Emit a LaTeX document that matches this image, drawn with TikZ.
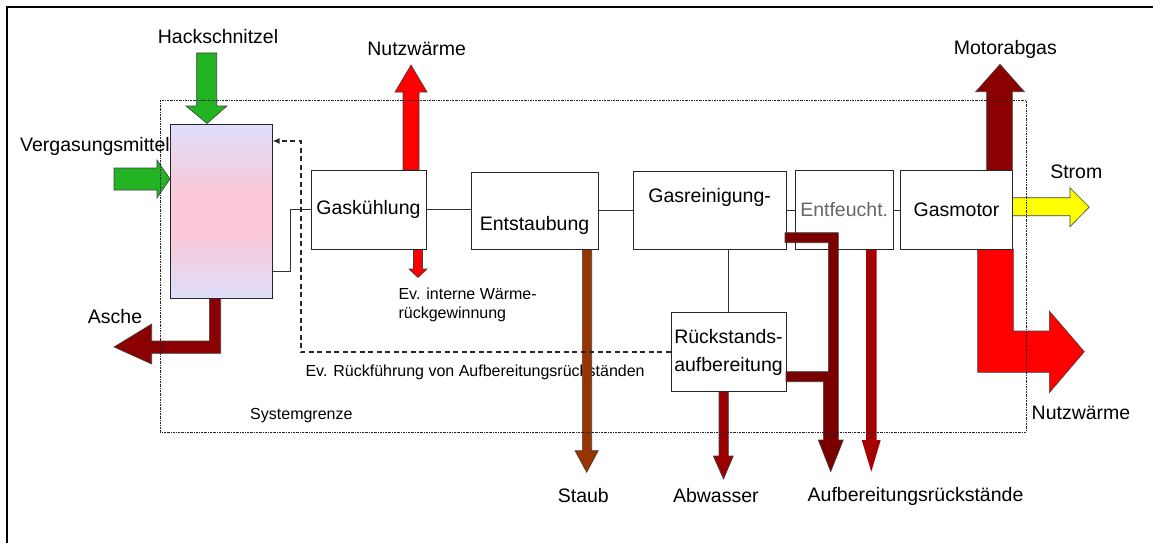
\documentclass[tikz,border=0pt]{standalone}
\usepackage{fontspec}
\setmainfont{Liberation Sans}
\definecolor{vgreen}{HTML}{22B422}
\definecolor{vred}{HTML}{FF0000}
\definecolor{vmaroon}{HTML}{8B0000}
\definecolor{vpipe}{HTML}{7A0000}
\definecolor{vdark}{HTML}{A60000}
\definecolor{vwater}{HTML}{990000}
\definecolor{vbrown}{HTML}{993300}
\definecolor{vyellow}{HTML}{FFFF00}
\definecolor{vlav}{HTML}{DEDEFA}
\definecolor{vpink}{HTML}{FAC8D8}
\usetikzlibrary{arrows.meta, positioning, calc}
\pgfdeclareverticalshading{reactorshade}{100bp}{color(0bp)=(vlav); color(25bp)=(vlav);
  color(43bp)=(vpink); color(55bp)=(vpink); color(75bp)=(vlav); color(100bp)=(vlav)}

\begin{document}
\begin{tikzpicture}[
    x=1pt, y=-1pt,
    every node/.style={font=\fontsize{19.5}{23}\selectfont, text=black},
    small/.style={font=\fontsize{16}{18.6}\selectfont, align=left},
    unit/.style={draw=black!85, fill=white, line width=1pt, inner sep=0pt},
    blk/.style={draw=black!75, line width=0.6pt},
    conn/.style={draw=black!80, line width=0.9pt},
    fback/.style={draw=black!85, line width=1.6pt, dash pattern=on 5pt off 3.5pt},
    sysline/.style={draw=black!85, line width=0.8pt, dash pattern=on 2pt off 1pt on 0.6pt off 1pt}
  ]
    \useasboundingbox (0,0) rectangle (1153,543);
    \draw[line width=2.2pt] (6.7,543) -- (6.7,6.7) -- (1153,6.7);

    \node (hack) at (218,37) {Hackschnitzel};
    \node (verg) at (95,146) {Vergasungsmittel};
    \node (asche) at (115,317) {Asche};
    \node (nwtop) at (416.7,49) {Nutzwärme};
    \node (abgas) at (1005.3,49) {Motorabgas};
    \node (strom) at (1076.3,171.7) {Strom};
    \node (nwright) at (1081,412.7) {Nutzwärme};
    \node (staub) at (583.3,496) {Staub};
    \node (abw) at (715.8,496) {Abwasser};
    \node (aufb) at (915.5,496) {Aufbereitungsrückstände};
    \node[small, anchor=west] (intern) at (395,305) {Ev. interne Wärme-\\rückgewinnung};
    \node[small, anchor=west] (rueckf) at (302,372.7) {Ev. Rückführung von Aufbereitungsrückständen};
    \node[small, anchor=west] (sysgr) at (246.7,415.7) {Systemgrenze};

    \fill[blk, fill=vgreen] (196.7,53) -- (216.7,53) -- (216.7,106) -- (227,106) -- (207,123.5)
      -- (186,106) -- (196.7,106) -- cycle;
    \fill[blk, fill=vgreen] (114,168) -- (157,168) -- (157,160) -- (170,179) -- (157,198)
      -- (157,190) -- (114,190) -- cycle;
    \fill[blk, fill=vmaroon] (209.3,298) -- (220.7,298) -- (220.7,353.3) -- (151.7,353.3)
      -- (151.7,364) -- (114,347) -- (151.7,324) -- (151.7,341) -- (209.3,341) -- cycle;
    \fill[blk, fill=vred] (403,170) -- (403,92) -- (395,92) -- (411,65) -- (427,92)
      -- (419,92) -- (419,170) -- cycle;
    \fill[blk, fill=vred] (413.5,249) -- (413.5,269) -- (409,269) -- (418,277.5) -- (427,269)
      -- (422.5,269) -- (422.5,249) -- cycle;
    \fill[blk, fill=vbrown] (582.3,249) -- (582.3,450.7) -- (575,450.7) -- (586.7,472.3)
      -- (598.3,450.7) -- (591.7,450.7) -- (591.7,249) -- cycle;
    \fill[blk, fill=vwater] (719,391.7) -- (719,456) -- (713.3,456) -- (723.5,479)
      -- (733.3,456) -- (728.3,456) -- (728.3,391.7) -- cycle;
    \fill[vdark] (866,249.3) -- (866,440) -- (861.7,440) -- (871.3,471.7) -- (880.7,440)
      -- (876.7,440) -- (876.7,249.3) -- cycle;
    \fill[blk, fill=vmaroon] (986.7,170.7) -- (986.7,91.7) -- (975.7,91.7) -- (1000,64.3)
      -- (1024.3,91.7) -- (1012.3,91.7) -- (1012.3,170.7) -- cycle;
    \fill[blk, fill=vyellow] (1012.3,197.7) -- (1070,197.7) -- (1070,187.7) -- (1089.3,207)
      -- (1070,226.7) -- (1070,215.7) -- (1012.3,215.7) -- cycle;
    \fill[blk, fill=vred] (977.7,249) -- (1013.3,249) -- (1013.3,331) -- (1049.3,331)
      -- (1049.3,311) -- (1084.3,351.7) -- (1049.3,392.7) -- (1049.3,372.3)
      -- (977.7,372.3) -- cycle;

    \node[unit, minimum width=102pt, minimum height=174pt, shading=reactorshade]
          (reactor) at (221,211) {};
    \node[unit, minimum width=115pt, minimum height=79pt] (gask) at (368.5,209.5) {Gaskühlung};
    \node[unit, minimum width=127pt, minimum height=77pt,
          label={[yshift=-15pt]center:Entstaubung}] (entst) at (534.5,210.5) {};
    \node[unit, minimum width=152.7pt, minimum height=77.6pt,
          label={[yshift=13pt]center:Gasreinigung-}] (gasrein) at (709.7,210.5) {};
    \node[unit, minimum width=98.3pt, minimum height=78.6pt, text=black!60] (entf) at (844.2,210) {Entfeucht.};
    \node[unit, minimum width=111.6pt, minimum height=78.3pt] (gasmot) at (956.5,209.9) {Gasmotor};
    \node[unit, minimum width=115pt, minimum height=79pt, align=center,
          font=\fontsize{19.5}{28}\selectfont] (rueck) at (728.5,352.2) {Rückstands-\\aufbereitung};

    \fill[blk, fill=vpipe] (785,232.7) -- (838.3,232.7) -- (838.3,440) -- (843.3,440)
      -- (830.7,471.7) -- (818.3,440) -- (823.3,440) -- (823.3,381.7) -- (786,381.7)
      -- (786,371.7) -- (828.3,371.7) -- (828.3,242.7) -- (785,242.7) -- cycle;

    \coordinate (gasout) at (271.7,271.7);
    \coordinate (fb) at (300.7,141);
    \draw[conn] (gasout) -| (290.3,209.5) -- (gask.west);
    \draw[conn] (gask.east) -- (gask.east -| entst.west);
    \draw[conn] (entst.east) -- (entst.east -| gasrein.west);
    \draw[conn] (gasrein.east) -- (gasrein.east -| entf.west);
    \draw[conn] (entf.east) -- (entf.east -| gasmot.west);
    \draw[conn] (rueck.north) -- (rueck.north |- gasrein.south);
    \draw[fback, -{Latex[length=7pt, width=6pt]}] (rueck.west) -| (fb) -- (fb -| reactor.east);

    \draw[sysline] (160,100) rectangle (1026,432);
  \end{tikzpicture}
\end{document}
